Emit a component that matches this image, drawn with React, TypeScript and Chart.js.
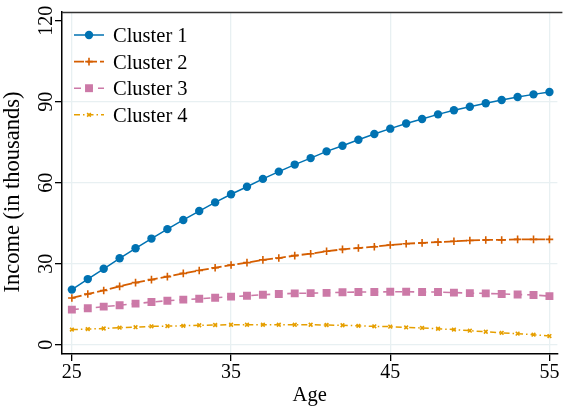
import React, { useEffect, useRef } from "react";
import { Chart, registerables } from "chart.js";

Chart.register(...registerables);

const ages = [25, 26, 27, 28, 29, 30, 31, 32, 33, 34, 35, 36, 37, 38, 39, 40, 41, 42, 43, 44, 45, 46, 47, 48, 49, 50, 51, 52, 53, 54, 55];
const cluster1 = [20.4, 24.3, 28.1, 32.0, 35.7, 39.3, 42.8, 46.2, 49.5, 52.7, 55.7, 58.5, 61.4, 64.1, 66.7, 69.1, 71.6, 73.7, 75.9, 78.0, 80.0, 81.9, 83.6, 85.3, 86.8, 88.1, 89.4, 90.6, 91.7, 92.7, 93.6];
const cluster2 = [17.3, 18.8, 20.1, 21.6, 23.0, 24.1, 25.2, 26.4, 27.5, 28.5, 29.5, 30.4, 31.4, 32.1, 33.0, 33.7, 34.6, 35.3, 35.8, 36.3, 36.9, 37.4, 37.7, 38.0, 38.3, 38.6, 38.8, 38.8, 39.0, 39.0, 39.0];
const cluster3 = [13.0, 13.5, 14.1, 14.6, 15.2, 15.8, 16.3, 16.7, 17.0, 17.4, 17.8, 18.1, 18.5, 18.8, 19.0, 19.1, 19.2, 19.4, 19.5, 19.5, 19.6, 19.6, 19.5, 19.5, 19.3, 19.1, 19.0, 18.8, 18.6, 18.4, 18.0];
const cluster4 = [5.6, 5.8, 6.0, 6.3, 6.5, 6.8, 6.9, 7.0, 7.2, 7.3, 7.4, 7.4, 7.4, 7.4, 7.4, 7.4, 7.3, 7.2, 7.0, 6.8, 6.7, 6.4, 6.2, 5.9, 5.6, 5.2, 4.8, 4.4, 4.1, 3.7, 3.2];
const seriesNames = ["Cluster 1", "Cluster 2", "Cluster 3", "Cluster 4"];
const xTicks = [25, 35, 45, 55];
const yTicks = [0, 30, 60, 90, 120];
const xTitle = "Age";
const yTitle = "Income (in thousands)";

const FONT = '"Liberation Serif", "Times New Roman", serif';
const GRID = "rgb(232,240,242)";

const styles = [
  { color: "#0072B2", width: 1.5, dash: [] as number[], point: "circle", radius: 4.2 },
  { color: "#D55E00", width: 1.8, dash: [10, 3], point: "cross", radius: 3.8 },
  { color: "#CC79A7", width: 1.6, dash: [7, 5], point: "rect", radius: 5.6 },
  { color: "#E69F00", width: 1.5, dash: [6, 3, 1.5, 3], point: "crossRot", radius: 2.6 },
];

function drawMarker(ctx: CanvasRenderingContext2D, kind: string, x: number, y: number, r: number, color: string) {
  ctx.save();
  ctx.setLineDash([]);
  ctx.fillStyle = color;
  ctx.strokeStyle = color;
  ctx.lineWidth = 1.6;
  ctx.beginPath();
  if (kind === "circle") {
    ctx.arc(x, y, r, 0, Math.PI * 2);
    ctx.fill();
  } else if (kind === "rect") {
    const s = r * Math.SQRT1_2;
    ctx.rect(x - s, y - s, 2 * s, 2 * s);
    ctx.fill();
  } else if (kind === "cross") {
    ctx.moveTo(x - r, y);
    ctx.lineTo(x + r, y);
    ctx.moveTo(x, y - r);
    ctx.lineTo(x, y + r);
    ctx.stroke();
  } else {
    const s = r * Math.SQRT1_2;
    ctx.moveTo(x - s, y - s);
    ctx.lineTo(x + s, y + s);
    ctx.moveTo(x - s, y + s);
    ctx.lineTo(x + s, y - s);
    ctx.stroke();
  }
  ctx.restore();
}

const decorPlugin = {
  id: "decor",
  afterDraw(chart: any) {
    const ctx: CanvasRenderingContext2D = chart.ctx;
    const xs = chart.scales.x;
    const ys = chart.scales.y;
    const area = chart.chartArea;
    ctx.save();
    // top frame line
    ctx.strokeStyle = "#333";
    ctx.lineWidth = 1.3;
    ctx.beginPath();
    ctx.moveTo(area.left, area.top + 0.5);
    ctx.lineTo(area.right + 5, area.top + 0.5);
    ctx.stroke();

    ctx.fillStyle = "#000";
    // x tick labels
    ctx.font = `20px ${FONT}`;
    ctx.textAlign = "center";
    ctx.textBaseline = "alphabetic";
    xTicks.forEach((v) => {
      ctx.fillText(String(v), xs.getPixelForValue(v), 378);
    });
    // y tick labels (rotated)
    yTicks.forEach((v) => {
      ctx.save();
      ctx.translate(52, ys.getPixelForValue(v));
      ctx.rotate(-Math.PI / 2);
      ctx.fillText(String(v), 0, 0);
      ctx.restore();
    });
    // titles
    ctx.font = `20.5px ${FONT}`;
    ctx.fillText(xTitle, (area.left + area.right) / 2, 401);
    ctx.save();
    ctx.font = `22.5px ${FONT}`;
    ctx.translate(19, 192);
    ctx.rotate(-Math.PI / 2);
    ctx.fillText(yTitle, 0, 0);
    ctx.restore();

    // legend
    ctx.textAlign = "left";
    seriesNames.forEach((name, i) => {
      const st = styles[i];
      const cy = 35 + i * 26.6;
      ctx.save();
      ctx.strokeStyle = st.color;
      ctx.lineWidth = st.width;
      ctx.setLineDash(st.dash);
      ctx.beginPath();
      ctx.moveTo(74, cy);
      ctx.lineTo(104, cy);
      ctx.stroke();
      ctx.restore();
      drawMarker(ctx, st.point, 89, cy, st.radius, st.color);
      ctx.fillStyle = "#000";
      ctx.font = `20.5px ${FONT}`;
      ctx.fillText(name, 113, cy + 7);
    });
    ctx.restore();
  },
};

export default function App() {
  const ref = useRef<HTMLCanvasElement | null>(null);
  useEffect(() => {
    document.body.style.margin = "0";
    const canvas = ref.current!;
    const all = [cluster1, cluster2, cluster3, cluster4];
    const chart = new Chart(canvas, {
      type: "line",
      data: {
        datasets: all.map((vals, i) => ({
          label: seriesNames[i],
          data: ages.map((a, j) => ({ x: a, y: vals[j] })),
          borderColor: styles[i].color,
          backgroundColor: styles[i].color,
          borderWidth: styles[i].width,
          borderDash: styles[i].dash,
          pointStyle: styles[i].point as any,
          pointRadius: styles[i].radius,
          pointBorderWidth: styles[i].point === "cross" || styles[i].point === "crossRot" ? 1.6 : 0,
          pointBorderColor: styles[i].color,
          pointBackgroundColor: styles[i].color,
          tension: 0,
          fill: false,
          order: 4 - i,
        })),
      },
      options: {
        responsive: false,
        animation: false,
        devicePixelRatio: 1,
        layout: { padding: { top: 12, left: 0, right: 0, bottom: 0 } },
        plugins: { legend: { display: false }, tooltip: { enabled: false } },
        scales: {
          x: {
            type: "linear",
            min: 24.38,
            max: 55.5,
            afterBuildTicks: (s: any) => {
              s.ticks = xTicks.map((v) => ({ value: v }));
            },
            afterFit: (s: any) => {
              s.height = 54;
              s.paddingLeft = 0;
              s.paddingRight = 0;
            },
            ticks: { display: false },
            grid: { color: GRID, tickColor: "#000", tickLength: 7, lineWidth: 1.3 },
            border: { display: true, color: "#000", width: 1.5 },
          },
          y: {
            type: "linear",
            min: -3.44,
            max: 123.2,
            afterBuildTicks: (s: any) => {
              s.ticks = yTicks.map((v) => ({ value: v }));
            },
            afterFit: (s: any) => {
              s.width = 62;
              s.paddingTop = 0;
              s.paddingBottom = 0;
            },
            ticks: { display: false },
            grid: {
              color: (c: any) => (c.tick && c.tick.value === 120 ? "rgba(0,0,0,0)" : GRID),
              tickColor: "#000",
              tickLength: 7,
              lineWidth: 1.3,
            },
            border: { display: true, color: "#000", width: 1.5 },
          },
        },
      },
      plugins: [decorPlugin],
    });
    return () => chart.destroy();
  }, []);
  return (
    <canvas
      ref={ref}
      width={563}
      height={408}
      style={{ display: "block", position: "fixed", left: 0, top: 0, width: 563, height: 408 }}
    />
  );
}
